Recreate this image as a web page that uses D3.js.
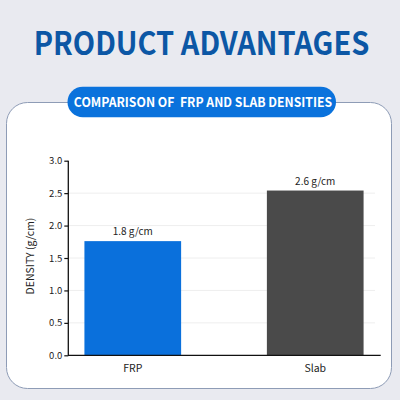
<!DOCTYPE html>
<html>
<head>
<meta charset="utf-8">
<script src="https://cdn.jsdelivr.net/npm/d3@7"></script>
<style>
  html, body { margin: 0; padding: 0; background: #e9eaf0; }
  svg { display: block; }
</style>
</head>
<body>
<svg id="chart" width="400" height="400"></svg>
<script>
const title = "PRODUCT ADVANTAGES";
const subtitle = "COMPARISON OF  FRP AND SLAB DENSITIES";
const categories = ["FRP", "Slab"];
const values = [1.76, 2.54];
const valueLabels = ["1.8 g/cm", "2.6 g/cm"];
const barColors = ["#0a70dc", "#4a4a4a"];
const yTicks = [0, 0.5, 1.0, 1.5, 2.0, 2.5, 3.0];
const yLabel = "DENSITY (g/cm)";

const svg = d3.select("#chart");
const font = "'Noto Sans CJK SC', 'Noto Sans', sans-serif";

svg.append("rect").attr("width", 400).attr("height", 400).attr("fill", "#e9eaf0");

// Title (horizontally condensed)
svg.append("text")
  .attr("transform", "translate(201.5,54.5) scale(0.907,1)")
  .attr("text-anchor", "middle")
  .attr("font-family", font).attr("font-weight", 700)
  .attr("font-size", 32)
  .attr("fill", "#0c57a5")
  .text(title);

// Card
svg.append("rect")
  .attr("x", 6.5).attr("y", 102.5).attr("width", 385).attr("height", 286)
  .attr("rx", 21).attr("ry", 21)
  .attr("fill", "#ffffff").attr("stroke", "#8e9cb6").attr("stroke-width", 1);

// Pill
svg.append("rect")
  .attr("x", 67.5).attr("y", 86.7).attr("width", 268.5).attr("height", 30.6)
  .attr("rx", 15.3).attr("ry", 15.3)
  .attr("fill", "#0a72dc");
svg.append("text")
  .attr("transform", "translate(203,107.3) scale(0.94,1)")
  .attr("text-anchor", "middle")
  .attr("font-family", font).attr("font-weight", 700)
  .attr("font-size", 13)
  .attr("fill", "#ffffff")
  .attr("xml:space", "preserve")
  .style("white-space", "pre")
  .text(subtitle);

// Scales
const x = d3.scaleBand().domain(categories).range([68, 380]).paddingInner(0.47).paddingOuter(0.09);
const y = d3.scaleLinear().domain([0, 3]).range([355.3, 160.7]);

// Grid
svg.append("g")
  .selectAll("line")
  .data(yTicks.filter(d => d > 0 && d < 3))
  .join("line")
  .attr("x1", 69).attr("x2", 375)
  .attr("y1", d => y(d)).attr("y2", d => y(d))
  .attr("stroke", "#eeeeee").attr("stroke-width", 1);

// Bars
svg.append("g")
  .selectAll("rect")
  .data(categories)
  .join("rect")
  .attr("x", d => x(d))
  .attr("width", x.bandwidth())
  .attr("y", (d, i) => y(values[i]))
  .attr("height", (d, i) => y(0) - y(values[i]))
  .attr("fill", (d, i) => barColors[i]);

// Value labels
svg.append("g")
  .selectAll("text")
  .data(categories)
  .join("text")
  .attr("x", d => x(d) + x.bandwidth() / 2)
  .attr("y", (d, i) => y(values[i]) - 6)
  .attr("text-anchor", "middle")
  .attr("font-family", font).attr("font-size", 10)
  .attr("fill", "#222")
  .text((d, i) => valueLabels[i]);

// Y axis
const yAxis = svg.append("g")
  .attr("transform", "translate(68.3,0)")
  .call(d3.axisLeft(y).tickValues(yTicks).tickFormat(d3.format(".1f")).tickSize(4).tickPadding(2));
yAxis.select(".domain").attr("stroke", "#111").attr("stroke-width", 1.3).attr("d", `M0,${y(3)}V${y(0)}`);
yAxis.selectAll(".tick line").attr("stroke", "#111").attr("stroke-width", 1.2);
yAxis.selectAll(".tick text").attr("font-family", font).attr("font-size", 9.5).attr("fill", "#222");

// X axis
const xAxis = svg.append("g")
  .attr("transform", `translate(0,${y(0)})`)
  .call(d3.axisBottom(x).tickSize(0).tickPadding(9));
xAxis.select(".domain").attr("stroke", "#111").attr("stroke-width", 1.3).attr("d", "M68,0H380.7");
xAxis.selectAll(".tick text").attr("font-family", font).attr("font-size", 10.5).attr("fill", "#222");

// Y label
svg.append("text")
  .attr("transform", `translate(34,256) rotate(-90)`)
  .attr("text-anchor", "middle")
  .attr("font-family", font).attr("font-size", 10.5)
  .attr("fill", "#222")
  .text(yLabel);
</script>
</body>
</html>
